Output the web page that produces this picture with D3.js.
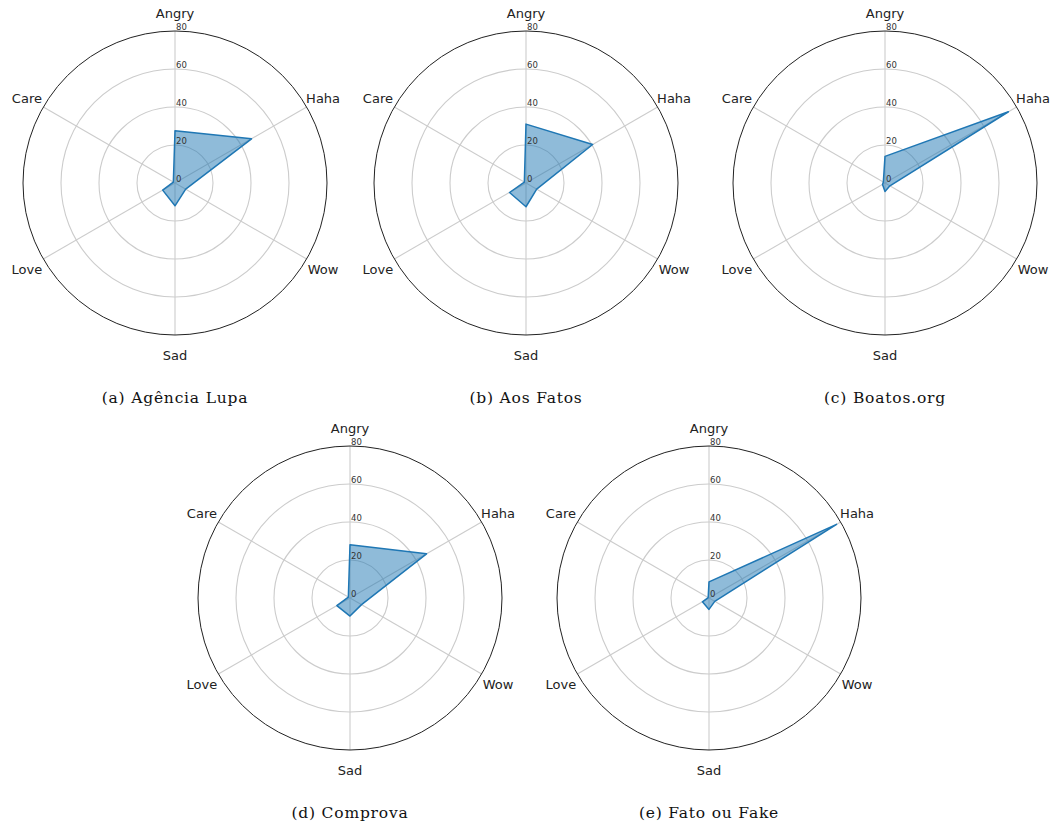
<!DOCTYPE html>
<html>
<head>
<meta charset="utf-8">
<script src="https://cdn.jsdelivr.net/npm/d3@7"></script>
<style>
  body { margin: 0; background: #fff; }
  svg { display: block; }
</style>
</head>
<body>
<div id="chart"></div>
<script>
// reactions around the radar, clockwise from the top
var categories = ["Angry", "Haha", "Wow", "Sad", "Love", "Care"];
var radial_ticks = [0, 20, 40, 60, 80];

var captions = ["(a) Agência Lupa", "(b) Aos Fatos", "(c) Boatos.org", "(d) Comprova", "(e) Fato ou Fake"];

// values, same order as categories
var lupa     = [27.5, 46.5, 6.5, 12, 7.5, 1];
var aosfatos = [31, 40.5, 6.5, 12.5, 10, 1];
var boatos   = [14, 75, 3, 4.5, 1.5, 1];
var comprova = [28, 46.5, 7, 9.5, 8, 1];
var fatofake = [8.5, 77.5, 3.5, 6, 4, 0.5];

var series = [lupa, aosfatos, boatos, comprova, fatofake];

// panel centres
var panels = [
    {cx: 175, cy: 183, capY: 398},
    {cx: 526, cy: 183, capY: 398},
    {cx: 885, cy: 183, capY: 398},
    {cx: 350, cy: 598, capY: 813},
    {cx: 709, cy: 598, capY: 813}
];

var width = 1053, height = 826;
var R = 152;

var svg = d3.select("#chart")
    .append("svg")
    .attr("width", width)
    .attr("height", height);

var r = d3.scaleLinear().domain([0, 80]).range([0, R]);
var angle = d3.scaleLinear().domain([0, categories.length]).range([0, 2 * Math.PI]);

var line = d3.lineRadial()
    .angle(function(d, i) { return angle(i); })
    .radius(function(d) { return r(d); })
    .curve(d3.curveLinearClosed);

panels.forEach(function(p, k) {
    var g = svg.append("g")
        .attr("transform", "translate(" + p.cx + "," + p.cy + ")");

    // rings
    g.selectAll(".ring")
        .data(radial_ticks.slice(1, -1))
        .enter()
        .append("circle")
            .attr("r", function(d) { return r(d); })
            .style("fill", "none")
            .style("stroke", "#cccccc")
            .style("stroke-width", 1.1);

    // spokes
    g.selectAll(".spoke")
        .data(categories)
        .enter()
        .append("line")
            .attr("x1", 0).attr("y1", 0)
            .attr("x2", function(d, i) { return r(80) * Math.sin(angle(i)); })
            .attr("y2", function(d, i) { return -r(80) * Math.cos(angle(i)); })
            .style("stroke", "#cccccc")
            .style("stroke-width", 1.1);

    // outer frame
    g.append("circle")
        .attr("r", r(80))
        .style("fill", "none")
        .style("stroke", "#222")
        .style("stroke-width", 1);

    // data polygon
    g.append("path")
        .datum(series[k])
        .attr("d", line)
        .style("fill", "#1f77b4")
        .style("fill-opacity", 0.5)
        .style("stroke", "#1f77b4")
        .style("stroke-width", 1.5)
        .style("stroke-linejoin", "round");

    // radial tick labels
    g.selectAll(".rtick")
        .data(radial_ticks)
        .enter()
        .append("text")
            .attr("x", 1)
            .attr("y", function(d) { return -r(d) - 1; })
            .style("font-family", "DejaVu Sans")
            .style("font-size", "8.5px")
            .style("fill", "#333")
            .text(function(d) { return d; });

    // category labels
    g.selectAll(".cat")
        .data(categories)
        .enter()
        .append("text")
            .attr("x", function(d, i) { return 171 * Math.sin(angle(i)); })
            .attr("y", function(d, i) { return -171 * Math.cos(angle(i)) + 1; })
            .attr("text-anchor", "middle")
            .attr("dominant-baseline", "central")
            .style("font-family", "DejaVu Sans")
            .style("font-size", "13px")
            .style("fill", "#222")
            .text(function(d) { return d; });

    // caption
    svg.append("text")
        .attr("x", p.cx)
        .attr("y", p.capY)
        .attr("text-anchor", "middle")
        .attr("dominant-baseline", "central")
        .style("font-family", "DejaVu Serif")
        .style("font-size", "15.5px")
        .style("letter-spacing", "0.8px")
        .style("fill", "#111")
        .text(captions[k]);
});
</script>
</body>
</html>
